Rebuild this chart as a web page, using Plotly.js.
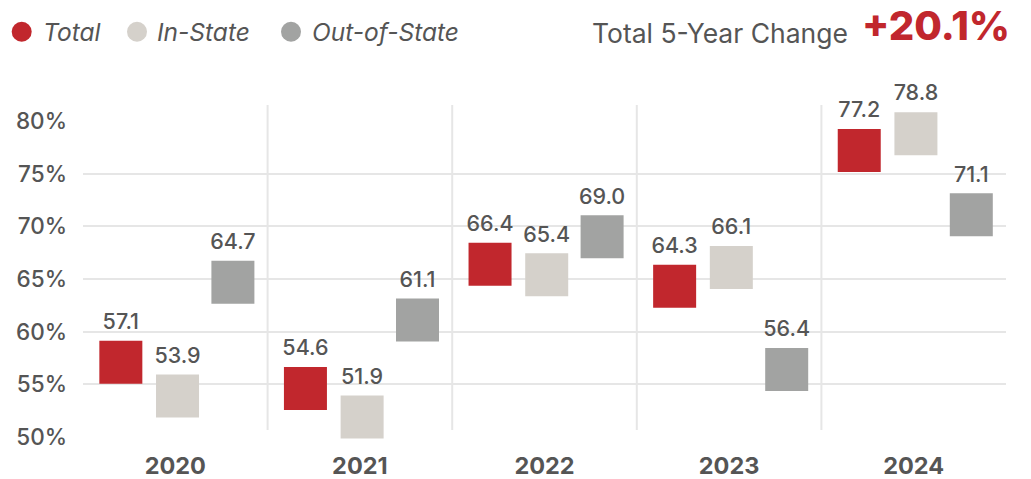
<!DOCTYPE html>
<html>
<head>
<meta charset="utf-8">
<script src="https://cdn.plot.ly/plotly-3.0.1.min.js"></script>
<style>html,body{margin:0;padding:0;background:#fff;}#chart{width:1031px;height:479px;}</style>
</head>
<body>
<div id="chart"></div>
<script>
// ---- data ----
const years = ['2020', '2021', '2022', '2023', '2024'];
const total = [57.1, 54.6, 66.4, 64.3, 77.2];
const inState = [53.9, 51.9, 65.4, 66.1, 78.8];
const outState = [64.7, 61.1, 69.0, 56.4, 71.1];
const seriesNames = ['Total', 'In-State', 'Out-of-State'];
const yTickVals = [50, 55, 60, 65, 70, 75, 80];
const headlineLabel = 'Total 5-Year Change';

// ---- style ----
const seriesColors = ['#C1272D', '#D5D1CB', '#A2A3A2'];
const groupOffsets = [-0.295, 0.012, 0.312];
const textColor = '#555555';
const gridColor = '#e6e6e6';
const FONT = 'Inter, "Open Sans", sans-serif';

const W = 1031, H = 479;
const M = {l: 83, r: 25, t: 121, b: 42};
const PW = W - M.l - M.r, PH = H - M.t - M.b;
const px2x = px => (px - M.l) / PW;
const py2y = py => (H - M.b - py) / PH;

const series = [total, inState, outState];
const xIdx = years.map((_, i) => i);

const traces = series.map((vals, s) => ({
  type: 'scatter',
  mode: 'markers+text',
  name: seriesNames[s],
  x: xIdx.map(i => i + groupOffsets[s]),
  y: vals,
  marker: {symbol: 'square', size: 43, color: seriesColors[s], line: {width: 0}},
  texttemplate: '%{y:.1f}',
  textposition: 'top center',
  textfont: {family: FONT, size: 21.5, color: textColor, weight: 500},
  cliponaxis: false,
  hoverinfo: 'skip',
  showlegend: false
}));

const shapes = [];
// category separators
for (let i = 0; i < years.length - 1; i++) {
  shapes.push({type: 'line', xref: 'x', yref: 'paper', x0: i + 0.5, x1: i + 0.5,
    y0: py2y(430), y1: py2y(105), line: {color: gridColor, width: 2}, layer: 'below'});
}
// legend circles
const legendCirclePx = [21.7, 137, 291];
const legendTextPx = [40.5, 154.5, 309.5];
seriesNames.forEach((n, s) => {
  shapes.push({type: 'circle', xref: 'paper', yref: 'paper', xsizemode: 'pixel', ysizemode: 'pixel',
    xanchor: px2x(legendCirclePx[s]), yanchor: py2y(31.7), x0: -10, x1: 10, y0: -10, y1: 10,
    fillcolor: seriesColors[s], line: {width: 0}});
});

const annotations = seriesNames.map((n, s) => ({
  xref: 'paper', yref: 'paper', x: px2x(legendTextPx[s]), y: py2y(31.5),
  xanchor: 'left', yanchor: 'middle', showarrow: false, text: '<i>' + n + '</i>',
  font: {family: FONT, size: 24.5, color: textColor}
}));

const change = (total[total.length - 1] - total[0]);
annotations.push({
  xref: 'paper', yref: 'paper', x: px2x(1012), y: py2y(26), xanchor: 'right', yanchor: 'middle',
  showarrow: false, text: (change >= 0 ? '+' : '') + change.toFixed(1) + '%',
  font: {family: FONT, size: 40, color: seriesColors[0], weight: 800}
});
annotations.push({
  xref: 'paper', yref: 'paper', x: px2x(850), y: py2y(33), xanchor: 'right', yanchor: 'middle',
  showarrow: false, text: headlineLabel,
  font: {family: FONT, size: 26.5, color: textColor, weight: 400}
});

const layout = {
  width: W, height: H,
  margin: M,
  paper_bgcolor: '#ffffff', plot_bgcolor: '#ffffff',
  showlegend: false,
  xaxis: {
    range: [-0.5, years.length - 0.5],
    tickvals: xIdx, ticktext: years,
    showgrid: false, zeroline: false, showline: false, ticks: '',
    tickfont: {family: FONT, size: 23.5, color: textColor, weight: 700},
    ticklabelstandoff: 12,
    fixedrange: true
  },
  yaxis: {
    range: [50, 80],
    tickvals: yTickVals, ticktext: yTickVals.map(v => v + '%'),
    showgrid: true, gridcolor: gridColor, gridwidth: 2,
    zeroline: false, showline: false, ticks: '',
    tickfont: {family: FONT, size: 22.5, color: textColor, weight: 500},
    ticklabelstandoff: 15,
    fixedrange: true
  },
  shapes: shapes,
  annotations: annotations
};

Plotly.newPlot('chart', traces, layout, {displayModeBar: false, staticPlot: true});
</script>
</body>
</html>
